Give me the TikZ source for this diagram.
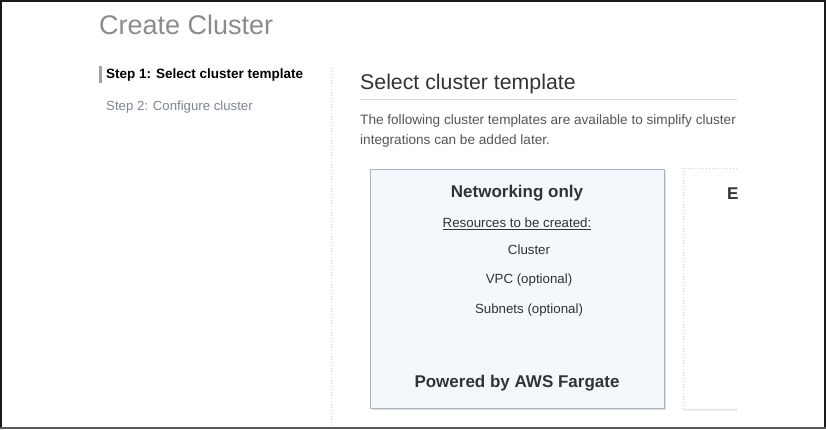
\documentclass[tikz,border=0pt]{standalone}
\usepackage{fontspec}
\setmainfont{Liberation Sans}
\usetikzlibrary{positioning}
\definecolor{ttlgray}{HTML}{8C8C8C}
\definecolor{stepgray}{HTML}{7B8692}
\definecolor{txtdark}{HTML}{333333}
\definecolor{txtmid}{HTML}{555555}
\definecolor{rulegray}{HTML}{D5DCE2}
\definecolor{cardfill}{HTML}{F2F8FC}
\definecolor{cardline}{HTML}{A9B5C1}
\definecolor{dotline}{HTML}{C8D0D8}
\tikzstyle{ttl} = [anchor=west, inner sep=0pt, text=ttlgray, font=\fontsize{27}{30}\selectfont]
\tikzstyle{head} = [anchor=west, inner sep=0pt, text=txtdark, font=\fontsize{21.3}{24}\selectfont]
\tikzstyle{para} = [anchor=west, inner sep=0pt, text=txtmid, font=\fontsize{13.6}{16}\selectfont]
\tikzset{
 s1/.style
  = {anchor=west, inner sep=0pt, text=black, font=\bfseries\fontsize{13.5}{16}\selectfont},
 s2/.style
  = {anchor=west, inner sep=0pt, text=stepgray, font=\fontsize{13.2}{16}\selectfont},
 ch/.style
  = {inner sep=0pt, text=txtdark, font=\bfseries\fontsize{17}{20}\selectfont},
 ci/.style
  = {inner sep=0pt, text=txtdark, font=\fontsize{13.3}{16}\selectfont},
 card/.style
  = {draw=cardline, fill=cardfill, line width=1pt},
}
\begin{document}
\begin{tikzpicture}[x=1pt, y=-1pt, node distance=30pt]
\useasboundingbox (0,0) rectangle (826,429);
\fill[white] (0,0) rectangle (826,429);
% page title and steps
\node (title) [ttl] at (99,25) {Create Cluster};
\fill[ttlgray!80] (99,66) rectangle (101.5,83);
\node (step1) [s1] at (106,75.5) {Step 1: Select cluster template};
\node (step2) [s2] at (106,107.5) {Step 2: Configure cluster};
\draw[dotline, dotted, line width=1pt] (331,68) -- (331,427);
% main panel
\node (sel) [head] at (360,83.5) {Select cluster template};
\draw[rulegray, line width=1pt] (360,99.5) -- (737,99.5);
\node (p1) [para] at (360,120.5) {The following cluster templates are available to simplify cluster};
\node (p2) [para] at (360,140.5) {integrations can be added later.};
% first card
\fill[gray!25] (371.5,171) rectangle (665.5,410);
\draw[card] (370,169) rectangle (664,408);
\node (net) [ch] at (517,193.5) {Networking only};
\node (res) [ci] at (517,223.5) {\underline{Resources to be created:}};
\node (clu) [ci] at (529,249.5) {Cluster};
\node (vpc) [ci, below of=clu, yshift=-1pt] {VPC (optional)};
\node (sub) [ci, below of=vpc] {Subnets (optional)};
\node (fg) [ch] at (517,383.5) {Powered by AWS Fargate};
% second card, cut off
\begin{scope}
\clip (670,160) rectangle (737,415);
\fill[gray!12] (684,170) rectangle (760,411);
\draw[dotline, dotted, fill=white, line width=1pt] (683,168) rectangle (760,409);
\end{scope}
\node (ec2) [ch, anchor=west] at (727,193.5) {E};
% frame
\draw[black!90, line width=1.5pt] (0.75,429) -- (0.75,0.75) -- (825,0.75) -- (825,427);
\draw[black!65, line width=2pt] (0,428) -- (826,428);
\end{tikzpicture}
\end{document}
